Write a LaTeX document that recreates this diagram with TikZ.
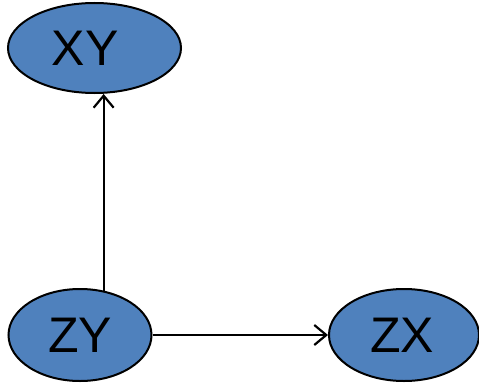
\documentclass[tikz,border=0pt]{standalone}
\usepackage{fontspec}
\setmainfont{Liberation Sans}
\usetikzlibrary{shapes.geometric,arrows.meta}
\definecolor{nodeblue}{HTML}{4F81BD}
\tikzset{
  ell/.style={ellipse, draw=black, line width=2pt, fill=nodeblue, inner sep=0pt,
    font=\fontsize{50}{54}\selectfont, text=black},
  conn/.style={line width=2.2pt, -{Straight Barb[length=12pt,width=20pt,line width=2.2pt]}}
}
\begin{document}
\begin{tikzpicture}[x=1pt,y=1pt]
\useasboundingbox (0,0) rectangle (479,384);
\node[ell, minimum width=173pt, minimum height=90pt] (XY) at (94.5,336) {\hspace*{-19pt}\raisebox{-3pt}{XY}};
\node[ell, minimum width=143pt, minimum height=92pt] (ZY) at (80,49) {\raisebox{-3pt}{ZY}};
\node[ell, minimum width=150pt, minimum height=92pt] (ZX) at (404,49) {\hspace*{-4pt}\raisebox{-3pt}{ZX}};
\draw[conn] (ZY.62.8) -- (ZY.62.8 |- XY.south);
\draw[conn] (ZY.east) -- (ZX.west);
\end{tikzpicture}
\end{document}
